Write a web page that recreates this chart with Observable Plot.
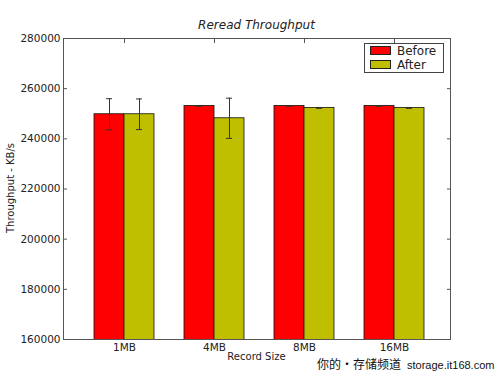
<!DOCTYPE html>
<html><head><meta charset="utf-8">
<script src="https://cdn.jsdelivr.net/npm/d3@7"></script>
<script src="https://cdn.jsdelivr.net/npm/@observablehq/plot@0.6"></script>
<style>
body{margin:0;background:#fff;}
#wrap{position:relative;width:500px;height:377px;font-family:"DejaVu Sans",sans-serif;color:#222;overflow:hidden;}
.ov{position:absolute;white-space:nowrap;}
#title{left:0;width:513px;top:18px;text-align:center;font-size:12px;font-style:italic;line-height:14px;}
#xlab{left:0;width:513px;top:351px;text-align:center;font-size:10px;line-height:12px;}
#ylab{left:11px;top:188px;font-size:10px;line-height:12px;transform:translate(-50%,-50%) rotate(-90deg);}
#legend{left:364px;top:43px;width:78px;height:28px;border:1px solid #444;background:#fff;font-size:12px;}
.li{position:absolute;left:5px;height:14px;line-height:14px;}
.sw{display:inline-block;width:19px;height:7px;border:1px solid #222;vertical-align:middle;margin-right:6px;position:relative;top:-1px;}
#wm{left:317px;top:357px;font-size:12px;line-height:14px;color:#111;}
#wm .cn{font-family:"Noto Sans CJK SC",sans-serif;}
#wm .en{font-family:"Liberation Sans",sans-serif;font-size:11px;margin-left:6px;}
</style></head><body><div id="wrap"></div>
<script>
const categories = ["1MB", "4MB", "8MB", "16MB"];
const series = ["Before", "After"];
const before = [249800, 253100, 253100, 253100];
const beforeErr = [6200, 120, 120, 120];
const after = [249800, 248200, 252300, 252300];
const afterErr = [6100, 8000, 150, 150];
const colors = ["#ff0000", "#bfbf00"];
const yTicks = [160000, 180000, 200000, 220000, 240000, 260000, 280000];
const title = "Reread Throughput";
const xLabel = "Record Size";
const yLabel = "Throughput - KB/s";

const rowsBefore = categories.map((c, i) => ({cat: c, series: series[0], value: before[i], err: beforeErr[i]}));
const rowsAfter = categories.map((c, i) => ({cat: c, series: series[1], value: after[i], err: afterErr[i]}));

const errMarks = (rows, dx, capL, capR) => [
  Plot.ruleX(rows, {x: "cat", y1: d => d.value - d.err, y2: d => d.value + d.err, dx, stroke: "#333", strokeWidth: 1}),
  Plot.tickY(rows, {x: "cat", y: d => d.value + d.err, insetLeft: capL, insetRight: capR, stroke: "#333", strokeWidth: 1}),
  Plot.tickY(rows, {x: "cat", y: d => d.value - d.err, insetLeft: capL, insetRight: capR, stroke: "#333", strokeWidth: 1})
];

const chart = Plot.plot({
  width: 500, height: 377,
  marginTop: 38, marginBottom: 38, marginLeft: 63, marginRight: 50,
  style: {fontFamily: "DejaVu Sans", fontSize: "10.5px", color: "#222", background: "#fff"},
  x: {type: "band", domain: categories, paddingInner: 0.336, paddingOuter: 0.311, align: 0.55},
  y: {domain: [160000, 280000]},
  color: {domain: series, range: colors},
  marks: [
    Plot.barY(rowsBefore, {x: "cat", y: "value", fill: "series", stroke: "#111", strokeWidth: 0.8, insetRight: 30, clip: true}),
    Plot.barY(rowsAfter, {x: "cat", y: "value", fill: "series", stroke: "#111", strokeWidth: 0.8, insetLeft: 30, clip: true}),
    ...errMarks(rowsBefore, -15, 12, 42),
    ...errMarks(rowsAfter, 15, 42, 12),
    Plot.frame({stroke: "#555", strokeWidth: 1}),
    Plot.axisY({ticks: yTicks, tickFormat: d3.format("d"), tickSize: 0, tickPadding: 3, label: null, fill: "#222"}),
    Plot.axisY({ticks: yTicks, tickSize: -4, text: null, label: null, stroke: "#555"}),
    Plot.axisY({anchor: "right", ticks: yTicks, tickSize: -4, text: null, label: null, stroke: "#555"}),
    Plot.axisX({ticks: categories, tickSize: 0, tickPadding: 4, label: null, fill: "#222"}),
    Plot.axisX({anchor: "top", ticks: categories, tickSize: -4, text: null, label: null, stroke: "#555"})
  ]
});

const wrap = document.getElementById("wrap");
wrap.appendChild(chart);
const add = (id, html) => { const d = document.createElement("div"); d.className = "ov"; d.id = id; d.innerHTML = html; wrap.appendChild(d); return d; };
add("title", title);
add("xlab", xLabel);
add("ylab", yLabel);
const lg = add("legend", "");
series.forEach((s, i) => {
  const it = document.createElement("div");
  it.className = "li";
  it.style.top = (i * 14) + "px";
  it.innerHTML = `<span class="sw" style="background:${colors[i]}"></span>${s}`;
  lg.appendChild(it);
});
add("wm", '<span class="cn">你的・存储频道</span><span class="en">storage.it168.com</span>');
</script>
</body></html>
